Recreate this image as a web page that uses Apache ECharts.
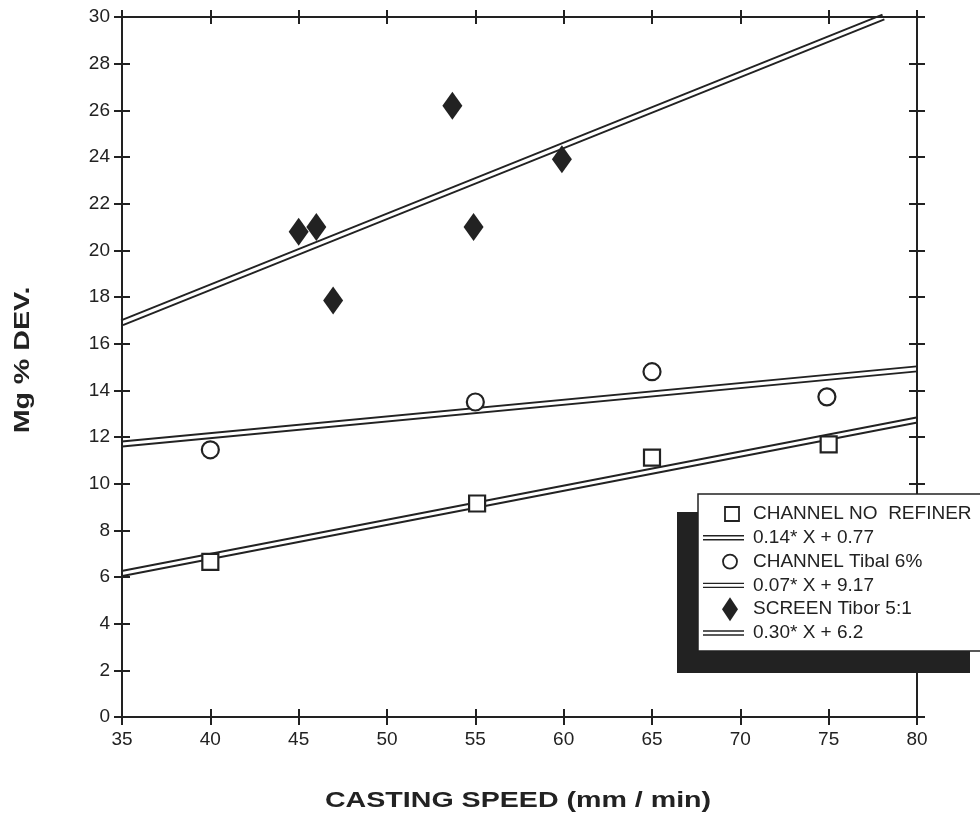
<!DOCTYPE html>
<html>
<head>
<meta charset="utf-8">
<script src="https://cdn.jsdelivr.net/npm/echarts@6/dist/echarts.min.js"></script>
<style>
  html, body { margin: 0; padding: 0; background: #fff; }
  #chart { width: 980px; height: 815px; }
</style>
</head>
<body>
<div id="chart"></div>
<script>
// measured points (casting speed mm/min, Mg % dev.)
var noRefinerSpeed = [40, 55.1, 65, 75];
var noRefinerMg = [6.65, 9.15, 11.12, 11.68];
var tibalSpeed = [40, 55, 65, 74.9];
var tibalMg = [11.45, 13.5, 14.8, 13.72];
var screenSpeed = [45, 46, 46.95, 53.7, 54.9, 59.9];
var screenMg = [20.8, 21.0, 17.85, 26.2, 21.0, 23.9];

var noRefinerFitX = [35, 80];
var noRefinerFitY = [6.15, 12.73];
var tibalFitX = [35, 80];
var tibalFitY = [11.7, 14.92];
var screenFitX = [35, 78.1];
var screenFitY = [16.9, 30];

var legendLabels = [
  'CHANNEL NO  REFINER',
  '0.14* X + 0.77',
  'CHANNEL Tibal 6%',
  '0.07* X + 9.17',
  'SCREEN Tibor 5:1',
  '0.30* X + 6.2'
];

var INK = '#222';
var FONT = '"Liberation Sans", Arial, sans-serif';

function zip(xs, ys) {
  return xs.map(function (x, i) { return [x, ys[i]]; });
}

// double rule: thick dark stroke with a thin white core on top
function fitSeries(name, xs, ys) {
  var d = zip(xs, ys);
  return [
    { name: name, type: 'line', data: d, symbol: 'none', z: 2, silent: true,
      lineStyle: { color: INK, width: 7 } },
    { name: name + '_core', type: 'line', data: d, symbol: 'none', z: 3, silent: true,
      lineStyle: { color: '#fff', width: 3.2 } }
  ];
}

function xAx(pos, inside, showLine, showLabel, len) {
  return {
    type: 'value', position: pos, min: 35, max: 80, interval: 5, z: 6,
    axisLine: { show: showLine, onZero: false, lineStyle: { color: INK, width: 2 } },
    axisTick: { show: true, inside: inside, length: len, lineStyle: { color: INK, width: 2 } },
    axisLabel: { show: showLabel, color: INK, fontSize: 19, fontFamily: FONT, margin: 13 },
    splitLine: { show: false }
  };
}
function yAx(pos, inside, showLine, showLabel) {
  return {
    type: 'value', position: pos, min: 0, max: 30, interval: 2, z: 6,
    axisLine: { show: showLine, onZero: false, lineStyle: { color: INK, width: 2 } },
    axisTick: { show: true, inside: inside, length: 8, lineStyle: { color: INK, width: 2 } },
    axisLabel: { show: showLabel, color: INK, fontSize: 19, fontFamily: FONT, margin: 12 },
    splitLine: { show: false }
  };
}

var chart = echarts.init(document.getElementById('chart'), null, { renderer: 'canvas' });

var series = []
  .concat(fitSeries('fitNoRefiner', noRefinerFitX, noRefinerFitY))
  .concat(fitSeries('fitTibal', tibalFitX, tibalFitY))
  .concat(fitSeries('fitScreen', screenFitX, screenFitY))
  .concat([
    { name: 'CHANNEL NO REFINER', type: 'scatter', z: 5, data: zip(noRefinerSpeed, noRefinerMg),
      symbol: 'rect', symbolSize: 16,
      itemStyle: { color: '#fff', borderColor: INK, borderWidth: 2.2, opacity: 1 } },
    { name: 'CHANNEL Tibal 6%', type: 'scatter', z: 5, data: zip(tibalSpeed, tibalMg),
      symbol: 'circle', symbolSize: 17,
      itemStyle: { color: '#fff', borderColor: INK, borderWidth: 2.2, opacity: 1 } },
    { name: 'SCREEN Tibor 5:1', type: 'scatter', z: 5, data: zip(screenSpeed, screenMg),
      symbol: 'diamond', symbolSize: [20, 28],
      itemStyle: { color: INK, opacity: 1 } }
  ]);

// legend panel with drop shadow, drawn over the right axis like the original
var LX = 753, LY0 = 514, LSTEP = 23.8;
var legendGraphics = [
  { type: 'rect', z: 100, shape: { x: 677, y: 512, width: 293, height: 161 }, style: { fill: INK } },
  { type: 'rect', z: 101, shape: { x: 698, y: 494, width: 300, height: 157 },
    style: { fill: '#fff', stroke: INK, lineWidth: 1.5 } }
];
legendLabels.forEach(function (t, i) {
  legendGraphics.push({ type: 'text', z: 102, x: LX, y: LY0 + i * LSTEP,
    style: { text: t, font: '19px ' + FONT, fill: INK, verticalAlign: 'middle' } });
});
[1, 3, 5].forEach(function (i) {
  var y = LY0 + i * LSTEP;
  legendGraphics.push({ type: 'line', z: 102, shape: { x1: 703, y1: y - 2, x2: 744, y2: y - 2 }, style: { stroke: INK, lineWidth: 1.4 } });
  legendGraphics.push({ type: 'line', z: 102, shape: { x1: 703, y1: y + 2, x2: 744, y2: y + 2 }, style: { stroke: INK, lineWidth: 1.4 } });
});
legendGraphics.push({ type: 'rect', z: 102, shape: { x: 725, y: LY0 - 7, width: 14, height: 14 },
  style: { fill: '#fff', stroke: INK, lineWidth: 1.8 } });
legendGraphics.push({ type: 'circle', z: 102, shape: { cx: 730, cy: LY0 + 2 * LSTEP, r: 7 },
  style: { fill: '#fff', stroke: INK, lineWidth: 1.8 } });
legendGraphics.push({ type: 'polygon', z: 102,
  shape: { points: [[730, LY0 + 4 * LSTEP - 12], [738, LY0 + 4 * LSTEP], [730, LY0 + 4 * LSTEP + 12], [722, LY0 + 4 * LSTEP]] },
  style: { fill: INK } });

// axis titles (wide bold face, stretched to match the scan)
legendGraphics.push({ type: 'text', z: 50, x: 518, y: 801, scaleX: 1.3,
  style: { text: 'CASTING SPEED (mm / min)', font: 'bold 22px ' + FONT, fill: INK,
    align: 'center', verticalAlign: 'middle' } });
legendGraphics.push({ type: 'text', z: 50, x: 23, y: 360, rotation: Math.PI / 2, scaleX: 1.3,
  style: { text: 'Mg % DEV.', font: 'bold 22px ' + FONT, fill: INK,
    align: 'center', verticalAlign: 'middle' } });

chart.setOption({
  backgroundColor: '#fff',
  animation: false,
  grid: { left: 122, right: 63, top: 17, bottom: 98, containLabel: false },
  xAxis: [
    xAx('bottom', false, true, true, 8),
    xAx('bottom', true, false, false, 8),
    xAx('top', false, true, false, 7),
    xAx('top', true, false, false, 7)
  ],
  yAxis: [
    yAx('left', false, true, true),
    yAx('left', true, false, false),
    yAx('right', false, true, false),
    yAx('right', true, false, false)
  ],
  series: series,
  graphic: legendGraphics
});
</script>
</body>
</html>
